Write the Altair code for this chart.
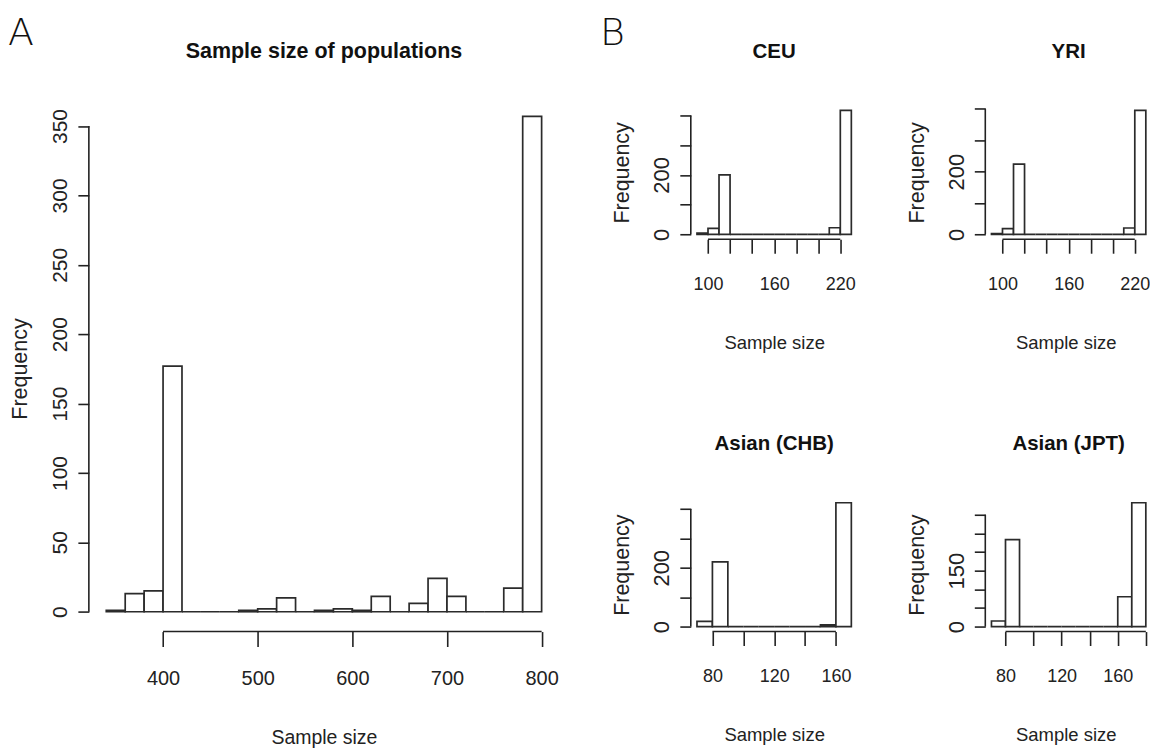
import altair as alt
import pandas as pd

# ---------------- data ----------------
# Panel A : "Sample size of populations"
A_bin_start = [340, 360, 380, 400, 420, 440, 460, 480, 500, 520, 540, 560,
               580, 600, 620, 640, 660, 680, 700, 720, 740, 760, 780]
A_counts = [1, 13, 15, 177, 0, 0, 0, 1, 2, 10, 0, 1,
            2, 1, 11, 0, 6, 24, 11, 0, 0, 17, 357]
A_bin_width = 20
A_x_ticks = [400, 500, 600, 700, 800]
A_x_labels = [400, 500, 600, 700, 800]
A_y_ticks = [0, 50, 100, 150, 200, 250, 300, 350]
A_y_labels = [0, 50, 100, 150, 200, 250, 300, 350]

# Panel B : CEU
CEU_bin_start = [90, 100, 110, 120, 130, 140, 150, 160, 170, 180, 190, 200, 210, 220]
CEU_counts = [4, 20, 200, 0, 0, 0, 0, 0, 0, 0, 0, 0, 22, 417]
# Panel B : YRI
YRI_bin_start = [90, 100, 110, 120, 130, 140, 150, 160, 170, 180, 190, 200, 210, 220]
YRI_counts = [2, 18, 224, 0, 0, 0, 0, 0, 0, 0, 0, 0, 20, 395]
B_top_x_ticks = [100, 120, 140, 160, 180, 200, 220]
B_top_x_labels = [100, 160, 220]
B_top_y_ticks = [0, 100, 200, 300, 400]
B_top_y_labels = [0, 200]

# Panel B : Asian (CHB)
CHB_bin_start = [70, 80, 90, 100, 110, 120, 130, 140, 150, 160]
CHB_counts = [18, 220, 0, 0, 0, 0, 0, 0, 6, 421]
CHB_x_ticks = [80, 100, 120, 140, 160]
CHB_x_labels = [80, 120, 160]
CHB_y_ticks = [0, 100, 200, 300, 400]
CHB_y_labels = [0, 200]

# Panel B : Asian (JPT)
JPT_bin_start = [70, 80, 90, 100, 110, 120, 130, 140, 150, 160, 170]
JPT_counts = [15, 233, 0, 0, 0, 0, 0, 0, 0, 80, 332]
JPT_x_ticks = [80, 100, 120, 140, 160, 180]
JPT_x_labels = [80, 120, 160]
JPT_y_ticks = [0, 50, 100, 150, 200, 250, 300]
JPT_y_labels = [0, 150]
B_bin_width = 10

# ---------------- style ----------------
FONT = "Liberation Sans, Arial, Helvetica, sans-serif"
LETTER_FONT = "DejaVu Sans"
INK = "#222222"
BAR_INK = "#2b2b2b"
TOP_PAD = 6


def panel(bin_start, counts, bw, x_ticks, x_labels, y_ticks, y_labels, title,
          w, h, h_full, s, letter=None, letter_dx=0, letter_dy=0, crop_right=False):
    # R-style axis limits: data range extended by 4 % on every side
    x0, x1 = bin_start[0], bin_start[-1] + bw
    xr = x1 - x0
    xdom = [x0 - 0.04 * xr, x1 + 0.04 * xr]
    px_per_unit = w / (xdom[1] - xdom[0])
    if crop_right:
        # the reference figure is cut at the right edge of the picture
        xdom[1] = x1 + 0.3
        w = (xdom[1] - xdom[0]) * px_per_unit
    ymax = max(counts)
    ylo = -0.04 * ymax
    yhi = ylo + 1.08 * ymax * h / h_full
    ydom = [ylo, yhi]

    bars = pd.DataFrame({
        "x": bin_start,
        "x2": [b + bw for b in bin_start],
        "y": counts,
        "y2": [0] * len(counts),
    })
    axis_lines = pd.DataFrame({
        "x": [x_ticks[0], xdom[0]],
        "x2": [x_ticks[-1], xdom[0]],
        "y": [ydom[0], y_ticks[0]],
        "y2": [ydom[0], y_ticks[-1]],
    })

    xscale = alt.Scale(domain=xdom, nice=False, zero=False)
    yscale = alt.Scale(domain=ydom, nice=False, zero=False)

    xaxis = alt.Axis(
        values=x_ticks,
        labelExpr=f"indexof({x_labels}, datum.value) >= 0 ? datum.label : ''",
        title="Sample size", domain=False, grid=False,
        tickSize=s["xtick"], tickWidth=1.6, tickColor=INK,
        labelFontSize=s["xlab"], labelColor=INK, labelBaseline="top",
        labelPadding=s["xlabpad"], labelOverlap=False, labelFlush=False,
        titleFontSize=s["xtitle"], titleFontWeight="normal", titleColor=INK,
        titleY=s["xtitleY"], titleBaseline="middle",
    )
    yaxis = alt.Axis(
        values=y_ticks,
        labelExpr=f"indexof({y_labels}, datum.value) >= 0 ? datum.label : ''",
        title="Frequency", domain=False, grid=False,
        tickSize=11, tickWidth=1.6, tickColor=INK,
        labelFontSize=s["ylab"], labelColor=INK, labelAngle=270,
        labelAlign="center", labelBaseline="middle",
        labelPadding=s["ylabpad"], labelOverlap=False, labelFlush=False,
        titleFontSize=s["ytitle"], titleFontWeight="normal", titleColor=INK,
        titleAngle=270, titleX=s["ytitleX"], titleY=h / 2,
        titleBaseline="middle", titleAlign="center",
    )

    hist = alt.Chart(bars).mark_rect(
        fill="white", stroke=BAR_INK, strokeWidth=1.7
    ).encode(
        x=alt.X("x:Q", scale=xscale, axis=xaxis),
        x2="x2",
        y=alt.Y("y:Q", scale=yscale, axis=yaxis),
        y2="y2",
    )
    lines = alt.Chart(axis_lines).mark_rule(color=INK, strokeWidth=1.6).encode(
        x=alt.X("x:Q", scale=xscale, axis=xaxis),
        x2="x2",
        y=alt.Y("y:Q", scale=yscale, axis=yaxis),
        y2="y2",
    )
    ttl = alt.Chart(pd.DataFrame({"t": [title]})).mark_text(
        align="center", baseline="middle", font=FONT, fontSize=s["title"],
        fontWeight="bold", color="#111111"
    ).encode(x=alt.value(s["title_cx"]), y=alt.value(s["titleY"]), text="t:N")
    layers = [hist, lines, ttl]
    if letter:
        lab = alt.Chart(pd.DataFrame({"t": [letter]})).mark_text(
            align="left", baseline="top", font=LETTER_FONT, fontSize=38,
            fontWeight=200, color="#111111"
        ).encode(x=alt.value(letter_dx), y=alt.value(letter_dy), text="t:N")
        layers.append(lab)

    return alt.layer(*layers).properties(width=w, height=h)


SA = dict(xtick=15, xlab=20, xlabpad=22, xtitle=19.5, xtitleY=106,
          ylab=21, ylabpad=17, ytitle=21.5, ytitleX=-68, title=21.5, titleY=-54,
          title_cx=471 / 2)
SB = dict(xtick=14, xlab=18, xlabpad=22, xtitle=18.5, xtitleY=103,
          ylab=22, ylabpad=18, ytitle=21.5, ytitleX=-68, title=20.5, titleY=-54,
          title_cx=167 / 2)

A = panel(A_bin_start, A_counts, A_bin_width, A_x_ticks, A_x_labels, A_y_ticks,
          A_y_labels, "Sample size of populations", 471, 527, 536, SA,
          letter="A", letter_dx=-81, letter_dy=-97 + TOP_PAD)
CEU = panel(CEU_bin_start, CEU_counts, B_bin_width, B_top_x_ticks, B_top_x_labels,
            B_top_y_ticks, B_top_y_labels, "CEU", 167, 134, 134, SB,
            letter="B", letter_dx=-91, letter_dy=-97 + TOP_PAD)
YRI = panel(YRI_bin_start, YRI_counts, B_bin_width, B_top_x_ticks, B_top_x_labels,
            B_top_y_ticks, B_top_y_labels, "YRI", 167, 134, 134, SB, crop_right=True)
CHB = panel(CHB_bin_start, CHB_counts, B_bin_width, CHB_x_ticks, CHB_x_labels,
            CHB_y_ticks, CHB_y_labels, "Asian (CHB)", 167, 134, 134, SB)
JPT = panel(JPT_bin_start, JPT_counts, B_bin_width, JPT_x_ticks, JPT_x_labels,
            JPT_y_ticks, JPT_y_labels, "Asian (JPT)", 167, 134, 134, SB, crop_right=True)

# with "flush" bounds a nested group counts as zero-sized, so the spacings
# below are measured from one plot area's origin / edge to the next
top_row = alt.hconcat(CEU, YRI, spacing=128, bounds="flush")
bottom_row = alt.hconcat(CHB, JPT, spacing=128, bounds="flush")
right = alt.vconcat(top_row, bottom_row, spacing=393, bounds="flush")

chart = alt.hconcat(A, right, spacing=132, bounds="flush").properties(
    padding={"left": 0, "top": TOP_PAD, "right": 0, "bottom": 0}
).configure(font=FONT).configure_view(strokeWidth=0)

chart.save("out.html", embed_options={"renderer": "svg", "actions": False})
